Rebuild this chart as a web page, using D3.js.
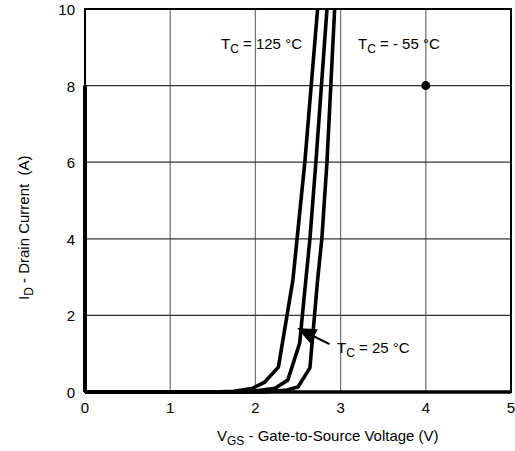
<!DOCTYPE html>
<html>
<head>
<meta charset="utf-8">
<script src="https://cdn.jsdelivr.net/npm/d3@7"></script>
<style>
  body { margin: 0; background: #fff; }
  text { font-family: Arial, "Liberation Sans", sans-serif; }
</style>
</head>
<body>
<div id="chart"></div>
<script>
"use strict";

// == DATA ==
var xTicks = [0, 1, 2, 3, 4, 5];
var yTicks = [0, 2, 4, 6, 8, 10];

var vgs125 = [0, 1.5, 1.75, 1.97, 2.11, 2.27, 2.44, 2.58, 2.73];
var id125  = [0, 0, 0.02, 0.1, 0.26, 0.65, 2.92, 6, 10];

var vgs25 = [0, 1.9, 2.23, 2.38, 2.52, 2.58, 2.64, 2.71, 2.84];
var id25  = [0, 0, 0.1, 0.31, 1.28, 2.66, 4, 6, 10];

var vgsM55 = [0, 2.1, 2.37, 2.5, 2.64, 2.73, 2.78, 2.84, 2.93];
var idM55  = [0, 0, 0.05, 0.13, 0.63, 2.92, 4, 6, 10];

// stray marks in the original figure
var dot = [4, 8];
var edge = [[0, 0], [0, 8]];

// == BOILERPLATE ==
var W = 515, H = 451;
var margin = { top: 9, right: 4, bottom: 59, left: 85 },
    width = W - margin.left - margin.right,
    height = H - margin.top - margin.bottom;

var svg = d3.select("#chart")
  .append("svg")
  .attr("width", W)
  .attr("height", H);

var g = svg.append("g")
  .attr("transform", "translate(" + margin.left + "," + margin.top + ")");

var x = d3.scaleLinear().domain([0, 5]).range([0, width]);
var y = d3.scaleLinear().domain([0, 10]).range([height, 0]);

// == GRID ==
g.selectAll(".vgrid")
  .data(xTicks.slice(1, -1))
  .enter().append("line")
  .attr("x1", function (d) { return x(d); })
  .attr("x2", function (d) { return x(d); })
  .attr("y1", 0).attr("y2", height)
  .attr("stroke", "#777").attr("stroke-width", 1.3);

g.selectAll(".hgrid")
  .data(yTicks.slice(1, -1))
  .enter().append("line")
  .attr("x1", 0).attr("x2", width)
  .attr("y1", function (d) { return y(d); })
  .attr("y2", function (d) { return y(d); })
  .attr("stroke", "#333").attr("stroke-width", 1.2);

// == FRAME ==
g.append("rect")
  .attr("width", width).attr("height", height)
  .attr("fill", "none").attr("stroke", "#000").attr("stroke-width", 2);
g.append("line")
  .attr("x1", 0).attr("x2", width)
  .attr("y1", height).attr("y2", height)
  .attr("stroke", "#000").attr("stroke-width", 3.5);

// == TICK LABELS ==
g.selectAll(".xlab")
  .data(xTicks)
  .enter().append("text")
  .attr("x", function (d) { return x(d); })
  .attr("y", height + 21)
  .attr("text-anchor", "middle")
  .attr("font-size", 15)
  .text(function (d) { return d; });

g.selectAll(".ylab")
  .data(yTicks)
  .enter().append("text")
  .attr("x", -10)
  .attr("y", function (d) { return y(d) + 6; })
  .attr("text-anchor", "end")
  .attr("font-size", 15)
  .text(function (d) { return d; });

// == CURVES ==
var line = d3.line()
  .x(function (d) { return x(d[0]); })
  .y(function (d) { return y(d[1]); });

var curves = [
  d3.zip(vgs125, id125),
  d3.zip(vgs25, id25),
  d3.zip(vgsM55, idM55)
];

g.selectAll(".curve")
  .data(curves)
  .enter().append("path")
  .attr("d", line)
  .attr("fill", "none")
  .attr("stroke", "#000")
  .attr("stroke-width", 3.6)
  .attr("stroke-linejoin", "round");

g.append("path")
  .attr("d", line(edge))
  .attr("stroke", "#000").attr("stroke-width", 4);

g.append("circle")
  .attr("cx", x(dot[0])).attr("cy", y(dot[1]))
  .attr("r", 4.5).attr("fill", "#000");

// == ARROW (points at 25 °C curve) ==
var tip = [x(2.49), y(1.67)];
var tail = [x(2.87), y(1.25)];
var ang = Math.atan2(tip[1] - tail[1], tip[0] - tail[0]);
var hl = 19, hw = 8;
var bx = tip[0] - hl * Math.cos(ang), by = tip[1] - hl * Math.sin(ang);
g.append("line")
  .attr("x1", tail[0]).attr("y1", tail[1])
  .attr("x2", bx).attr("y2", by)
  .attr("stroke", "#000").attr("stroke-width", 2);
g.append("path")
  .attr("d", "M" + tip[0] + "," + tip[1] +
    "L" + (bx + hw * Math.sin(ang)) + "," + (by - hw * Math.cos(ang)) +
    "L" + (bx - hw * Math.sin(ang)) + "," + (by + hw * Math.cos(ang)) + "Z")
  .attr("fill", "#000");

// == LABELS ==
function tcLabel(px, py, value) {
  var t = svg.append("text")
    .attr("x", px).attr("y", py)
    .attr("font-size", 15);
  t.append("tspan").text("T");
  t.append("tspan").attr("font-size", 12).attr("dy", 4).text("C");
  t.append("tspan").attr("dy", -4).text(" = " + value + " °C");
}
tcLabel(221, 49, "125");
tcLabel(358, 49, "- 55");
tcLabel(337, 353, "25");

var xt = svg.append("text")
  .attr("x", 217).attr("y", 441)
  .attr("font-size", 15);
xt.append("tspan").text("V");
xt.append("tspan").attr("font-size", 12).attr("dy", 4).text("GS");
xt.append("tspan").attr("dy", -4).text(" - Gate-to-Source Voltage (V)");

var yt = svg.append("text")
  .attr("transform", "translate(29,300) rotate(-90)")
  .attr("font-size", 15)
  .attr("xml:space", "preserve");
yt.append("tspan").text("I");
yt.append("tspan").attr("font-size", 12).attr("dy", 4).text("D");
yt.append("tspan").attr("dy", -4).text(" - Drain Current  (A)");
</script>
</body>
</html>
